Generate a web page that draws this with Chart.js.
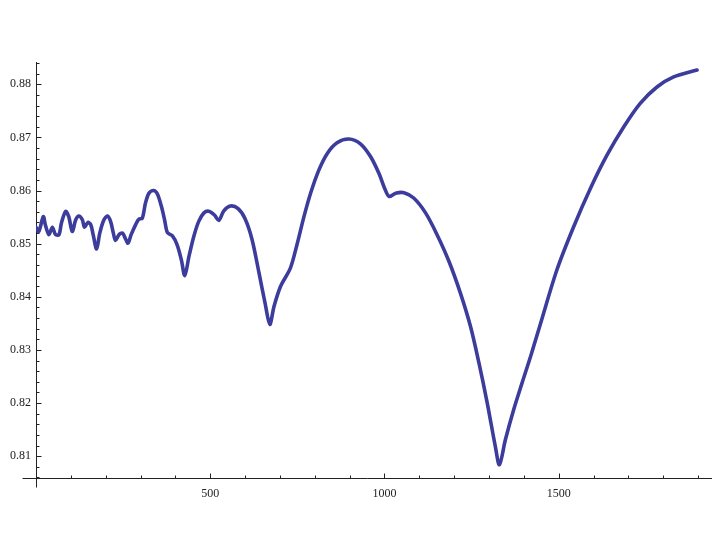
<!DOCTYPE html>
<html>
<head>
<meta charset="utf-8">
<script src="https://cdn.jsdelivr.net/npm/chart.js@4/dist/chart.umd.min.js"></script>
<style>
  body { margin: 0; background: #fff; }
  #wrap { width: 723px; height: 558px; }
</style>
</head>
<body>
<div id="wrap"><canvas id="plot" width="723" height="558"></canvas></div>
<script>
// values
const xs = [0, 8, 21, 27, 37, 47, 56, 66, 73, 85, 94, 104, 114, 123, 133, 139, 149, 157, 164, 174,
    183, 195, 205, 214, 222, 228, 238, 248, 257, 264, 273, 286, 295, 305, 314, 324, 337, 348, 360, 369,
    377, 391, 405, 417, 427, 439, 453, 467, 482, 496, 512, 525, 539, 558, 580, 600, 620, 640, 658, 671,
    683, 702, 730, 750, 769, 788, 812, 836, 864, 898, 931, 960, 985, 1000, 1013, 1032, 1056, 1084, 1118, 1151,
    1185, 1218, 1247, 1271, 1295, 1318, 1330, 1347, 1371, 1395, 1420, 1448, 1495, 1543, 1591, 1639, 1687, 1734, 1782, 1830,
    1897];
const ys = [0.8531, 0.8523, 0.8551, 0.8535, 0.8517, 0.8531, 0.8517, 0.8517, 0.8539, 0.8561, 0.8551, 0.8523, 0.8545, 0.8552, 0.8545, 0.8531, 0.8540, 0.8536, 0.8517, 0.8490,
    0.8520, 0.8545, 0.8552, 0.8542, 0.8520, 0.8506, 0.8517, 0.8520, 0.8509, 0.8501, 0.8517, 0.8536, 0.8546, 0.8548, 0.8576, 0.8595, 0.8600, 0.8594, 0.8570, 0.8545,
    0.8521, 0.8515, 0.8498, 0.8470, 0.8440, 0.8476, 0.8514, 0.8542, 0.8558, 0.8561, 0.8554, 0.8544, 0.8562, 0.8571, 0.8566, 0.8547, 0.8508, 0.8445, 0.8386, 0.8348,
    0.8382, 0.8420, 0.8454, 0.8501, 0.8551, 0.8595, 0.8639, 0.8670, 0.8690, 0.8697, 0.8688, 0.8664, 0.8631, 0.8605, 0.8589, 0.8595, 0.8596, 0.8586, 0.8558, 0.8517,
    0.8467, 0.8407, 0.8344, 0.8276, 0.8200, 0.8119, 0.8084, 0.8131, 0.8188, 0.8238, 0.8289, 0.8350, 0.8451, 0.8532, 0.8604, 0.8667, 0.8720, 0.8764, 0.8795, 0.8814,
    0.8827];

const xTicks = [500, 1000, 1500];
const yTicks = [0.81, 0.82, 0.83, 0.84, 0.85, 0.86, 0.87, 0.88];
const xMin = 0, xMax = 1940, xMinorStep = 100;
const yMin = 0.8059, yMax = 0.8842, yMinorStep = 0.002;

const points = xs.map((x, i) => ({ x: x, y: ys[i] }));

// Mathematica style axes: crossing lines with inward ticks
const mathAxes = {
    id: 'mathAxes',
    beforeDatasetsDraw(chart) {
        const { ctx, scales: { x, y } } = chart;
        const ox = Math.round(x.getPixelForValue(xMin)) + 0.5;
        const oy = Math.round(y.getPixelForValue(yMin)) + 0.5;
        ctx.save();
        ctx.strokeStyle = '#222';
        ctx.lineWidth = 1;
        ctx.beginPath();
        ctx.moveTo(ox - 14, oy);
        ctx.lineTo(x.right, oy);
        ctx.moveTo(ox, oy + 9);
        ctx.lineTo(ox, y.top);
        for (let v = xMinorStep; v <= xMax; v += xMinorStep) {
            const px = Math.round(x.getPixelForValue(v)) + 0.5;
            const len = (v % 500 === 0) ? 5 : 3;
            ctx.moveTo(px, oy);
            ctx.lineTo(px, oy - len);
        }
        for (let k = Math.ceil(yMin / yMinorStep); k * yMinorStep <= yMax + 1e-9; k++) {
            const v = k * yMinorStep;
            const py = Math.round(y.getPixelForValue(v)) + 0.5;
            const len = (k % 5 === 0) ? 5 : 3;
            ctx.moveTo(ox, py);
            ctx.lineTo(ox + len, py);
        }
        ctx.stroke();
        ctx.restore();
    }
};

const ctx = document.getElementById('plot').getContext('2d');
new Chart(ctx, {
    type: 'line',
    data: {
        datasets: [{
            data: points,
            borderColor: '#3c3c9c',
            borderWidth: 3.6,
            borderCapStyle: 'round',
            borderJoinStyle: 'round',
            pointRadius: 0,
            fill: false,
            tension: 0.3
        }]
    },
    options: {
        responsive: false,
        animation: false,
        layout: { padding: { left: 0, right: 11, top: 62, bottom: 50 } },
        plugins: { legend: { display: false }, tooltip: { enabled: false } },
        scales: {
            x: {
                type: 'linear',
                min: xMin,
                max: xMax,
                grid: { display: false, drawTicks: false },
                border: { display: false },
                afterBuildTicks: s => { s.ticks = xTicks.map(v => ({ value: v })); },
                afterFit: s => { s.height = 30; },
                ticks: {
                    padding: 9,
                    color: '#222',
                    font: { family: 'Liberation Serif', size: 12 },
                    callback: v => String(v)
                }
            },
            y: {
                type: 'linear',
                min: yMin,
                max: yMax,
                grid: { display: false, drawTicks: false },
                border: { display: false },
                afterBuildTicks: s => { s.ticks = yTicks.map(v => ({ value: v })); },
                afterFit: s => { s.width = 36; },
                ticks: {
                    padding: 5,
                    color: '#222',
                    font: { family: 'Liberation Serif', size: 12 },
                    callback: v => v.toFixed(2)
                }
            }
        }
    },
    plugins: [mathAxes]
});
</script>
</body>
</html>
